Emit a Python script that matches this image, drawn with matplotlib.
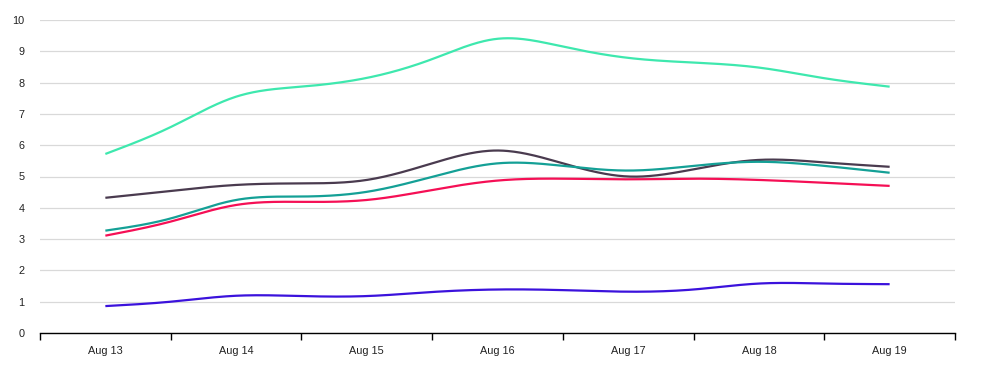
import numpy as np
import matplotlib
matplotlib.use("Agg")
import matplotlib.pyplot as plt

categories = ["Aug 13", "Aug 14", "Aug 15", "Aug 16", "Aug 17", "Aug 18", "Aug 19"]
# half-day sample positions (in days from Aug 13)
t_days = [0, 0.5, 1, 1.5, 2, 2.5, 3, 3.5, 4, 4.5, 5, 5.5, 6]

series_green = [5.72, 6.58, 7.55, 7.87, 8.15, 8.75, 9.40, 9.15, 8.79, 8.64, 8.48, 8.14, 7.87]
series_dark = [4.32, 4.54, 4.73, 4.78, 4.89, 5.42, 5.83, 5.42, 5.00, 5.23, 5.53, 5.45, 5.31]
series_teal = [3.27, 3.66, 4.25, 4.36, 4.51, 4.99, 5.42, 5.34, 5.19, 5.34, 5.47, 5.34, 5.12]
series_red = [3.11, 3.56, 4.09, 4.19, 4.25, 4.57, 4.87, 4.93, 4.91, 4.93, 4.89, 4.80, 4.70]
series_blue = [0.86, 1.0, 1.19, 1.18, 1.18, 1.31, 1.39, 1.37, 1.32, 1.39, 1.58, 1.58, 1.56]

colors = {
    "green": "#3EE8AE",
    "dark": "#4A3B4F",
    "teal": "#14A096",
    "red": "#F50F55",
    "blue": "#3B12DC",
}


def natural_spline(x, y, n=500):
    x = np.asarray(x, float)
    y = np.asarray(y, float)
    N = len(x)
    h = np.diff(x)
    A = np.zeros((N, N))
    b = np.zeros(N)
    A[0, 0] = 1
    A[-1, -1] = 1
    for i in range(1, N - 1):
        A[i, i - 1] = h[i - 1]
        A[i, i] = 2 * (h[i - 1] + h[i])
        A[i, i + 1] = h[i]
        b[i] = 6 * ((y[i + 1] - y[i]) / h[i] - (y[i] - y[i - 1]) / h[i - 1])
    M = np.linalg.solve(A, b)
    xs = np.linspace(x[0], x[-1], n)
    idx = np.clip(np.searchsorted(x, xs) - 1, 0, N - 2)
    hi = h[idx]
    a = x[idx + 1] - xs
    c = xs - x[idx]
    ys = (M[idx] * a**3 / (6 * hi) + M[idx + 1] * c**3 / (6 * hi)
          + (y[idx] / hi - M[idx] * hi / 6) * a + (y[idx + 1] / hi - M[idx + 1] * hi / 6) * c)
    return xs, ys


W, H = 996, 365
fig = plt.figure(figsize=(W / 100, H / 100), dpi=100)
ax = fig.add_axes([40 / W, (H - 333) / H, (955 - 40) / W, (333 - 20) / H])

xpos = np.array(t_days) + 0.5
for key, vals in [("green", series_green), ("dark", series_dark), ("teal", series_teal),
                  ("red", series_red), ("blue", series_blue)]:
    xs, ys = natural_spline(xpos, vals)
    ax.plot(xs, ys, color=colors[key], lw=1.6, solid_capstyle="butt", zorder=3)

ax.set_xlim(0, len(categories))
ax.set_ylim(0, 10)
ax.set_yticks(range(0, 11))
ax.yaxis.grid(True, color="#d9d9d9", lw=0.9)
ax.set_axisbelow(True)
for s in ["left", "right", "top"]:
    ax.spines[s].set_visible(False)
ax.spines["bottom"].set_color("black")
ax.spines["bottom"].set_linewidth(1.0)

ax.set_xticks(np.arange(0, len(categories) + 1))
ax.set_xticklabels([])
ax.set_xticks(np.arange(len(categories)) + 0.5, minor=True)
ax.set_xticklabels(categories, minor=True, fontsize=7.8, family="Liberation Sans")
ax.tick_params(axis="x", which="major", length=5, width=1, color="black", direction="out")
ax.tick_params(axis="x", which="minor", length=0, pad=9, labelcolor="#222222")
ax.tick_params(axis="y", length=0, pad=11, labelsize=7.8, labelcolor="#222222")
for lab in ax.get_yticklabels():
    lab.set_family("Liberation Sans")

fig.savefig("out.png", dpi=100)
